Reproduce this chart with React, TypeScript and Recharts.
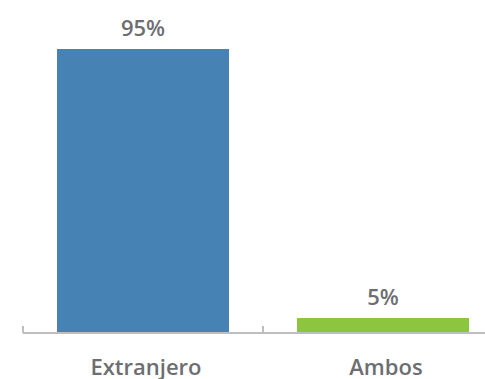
import { BarChart, Bar, XAxis, YAxis, Cell, LabelList } from "recharts";

const categories = ["Extranjero", "Ambos"];
const shares = [95, 5];
const barColors = ["#4682b4", "#8cc63f"];

const data = categories.map((name, i) => ({ name, value: shares[i] }));

const BoundaryTick = (props: any) => {
  const { x, y, payload } = props;
  const half = payload && payload.offset ? payload.offset : 120;
  return (
    <g>
      <line x1={x - half} y1={y - 7} x2={x - half} y2={y} stroke="#bcbec0" strokeWidth={2} />
      <text
        x={x + 3}
        y={y + 42}
        textAnchor="middle"
        fill="#6d6e71"
        fontSize={22}
        fontWeight={600}
        fontFamily="'Open Sans', sans-serif"
      >
        {payload.value}
      </text>
    </g>
  );
};

const App = () => {
  return (
    <div style={{ position: "absolute", left: 0, top: 0, width: 485, height: 379, overflow: "hidden", background: "#fff" }}>
      <BarChart
        width={503}
        height={379}
        data={data}
        margin={{ top: 34, right: 0, left: 23, bottom: 0 }}
        barSize={172}
      >
        <XAxis
          dataKey="name"
          height={46}
          axisLine={{ stroke: "#bcbec0", strokeWidth: 2 }}
          tickLine={false}
          tickSize={0}
          tickMargin={0}
          tick={<BoundaryTick />}
          interval={0}
        />
        <YAxis hide domain={[0, 100]} />
        <Bar dataKey="value" isAnimationActive={false}>
          {data.map((d, i) => (
            <Cell key={d.name} fill={barColors[i]} />
          ))}
          <LabelList
            dataKey="value"
            position="top"
            offset={13}
            formatter={(v: any) => `${v}%`}
            fill="#6d6e71"
            fontSize={22}
            fontWeight={600}
            fontFamily="'Open Sans', sans-serif"
          />
        </Bar>
      </BarChart>
    </div>
  );
};

export default App;
